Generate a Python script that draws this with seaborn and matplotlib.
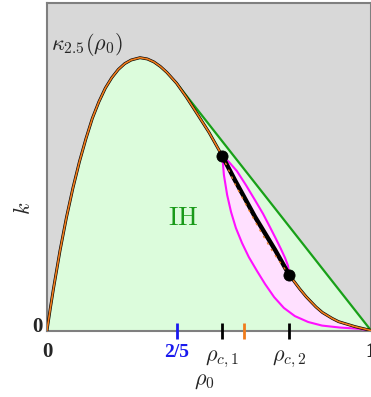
import numpy as np
import pandas as pd
import seaborn as sns
import matplotlib.pyplot as plt
import matplotlib.transforms as mtransforms

# kappa_2.5(rho0) (k in axis units, top of axes = 1)
rho_left = [0, 0.01, 0.02, 0.04, 0.06, 0.08, 0.10, 0.12, 0.14, 0.16, 0.18, 0.20, 0.22,
            0.24, 0.26, 0.287, 0.31, 0.33, 0.35, 0.37, 0.40, 0.43, 0.46, 0.50, 0.541]
kappa_left = [0, 0.066, 0.128, 0.243, 0.345, 0.435, 0.515, 0.585, 0.648, 0.698, 0.740, 0.772, 0.797,
              0.815, 0.826, 0.833, 0.829, 0.820, 0.806, 0.788, 0.755, 0.713, 0.667, 0.605, 0.533]
rho_mid = [0.541, 0.58, 0.62, 0.66, 0.70, 0.748]
kappa_mid = [0.533, 0.448, 0.373, 0.301, 0.235, 0.169]
rho_right = [0.748, 0.78, 0.80, 0.83, 0.85, 0.88, 0.90, 0.95, 1.0]
kappa_right = [0.169, 0.127, 0.103, 0.072, 0.055, 0.037, 0.027, 0.012, 0.0]

# black segment between the two critical points
rho_seg = [0.541, 0.580, 0.642, 0.704, 0.748]
k_seg = [0.533, 0.459, 0.347, 0.246, 0.169]

# magenta curves
rho_up = [0.541, 0.562, 0.586, 0.614, 0.642, 0.667, 0.688, 0.707, 0.722, 0.735, 0.744, 0.748]
k_up = [0.533, 0.514, 0.487, 0.444, 0.398, 0.356, 0.316, 0.279, 0.249, 0.221, 0.197, 0.169]
rho_low = [0.541, 0.546, 0.556, 0.568, 0.583, 0.602, 0.623, 0.648, 0.673, 0.701, 0.731,
           0.765, 0.806, 0.849, 0.904, 0.966, 1.0]
k_low = [0.533, 0.475, 0.414, 0.362, 0.313, 0.267, 0.224, 0.182, 0.142, 0.102, 0.069,
         0.044, 0.026, 0.015, 0.009, 0.005, 0.0]

# tangent (green) line from 2/5 to 1
rho_tan = [0.4, 1.0]
k_tan = [0.755, 0.0]

# critical points and ticks
rho_c = [0.541, 0.748]
k_c = [0.533, 0.169]
tick_pos = [0.4, 0.541, 0.609, 0.748]
tick_col = ['#1a1aee', 'black', '#f07c1c', 'black']

sns.set_theme(style='white')
plt.rcParams['mathtext.fontset'] = 'cm'
plt.rcParams['font.family'] = ['DejaVu Sans']

fig = plt.figure(figsize=(3.71, 3.97), dpi=100)
ax = fig.add_axes([47 / 371, 66.5 / 397, 324 / 371, 327.5 / 397])
ax.set_facecolor('#d8d8d8')
ax.set_axisbelow(False)

orange = '#f07c1c'

# green region under the concave envelope
i_tan = rho_left.index(0.4)
gx = rho_left[:i_tan + 1] + [1.0, 1.0, 0.0]
gy = kappa_left[:i_tan + 1] + [0.0, 0.0, 0.0]
ax.fill(gx, gy, color='#dcfcdc', lw=0, zorder=1)

# pink region
px = rho_up + rho_right[1:] + rho_low[::-1]
py = k_up + kappa_right[1:] + k_low[::-1]
ax.fill(px, py, color='#ffe0ff', lw=0, zorder=2)

sns.lineplot(x=rho_tan, y=k_tan, color='#18a018', lw=1.6, ax=ax, zorder=3)
sns.lineplot(x=rho_up, y=k_up, color='#ff10ff', lw=1.5, sort=False, estimator=None, ax=ax, zorder=3)
sns.lineplot(x=rho_low, y=k_low, color='#ff10ff', lw=1.5, sort=False, estimator=None, ax=ax, zorder=3)

sns.lineplot(x=rho_left, y=kappa_left, color='black', lw=2.1, estimator=None, ax=ax, zorder=4)
sns.lineplot(x=rho_right, y=kappa_right, color='black', lw=2.1, estimator=None, ax=ax, zorder=4)
sns.lineplot(x=rho_seg, y=k_seg, color='black', lw=3.2, estimator=None, ax=ax, zorder=4)
sns.lineplot(x=rho_left, y=kappa_left, color=orange, lw=1.2, estimator=None, ax=ax, zorder=5)
sns.lineplot(x=rho_right, y=kappa_right, color=orange, lw=1.2, estimator=None, ax=ax, zorder=5)
ax.plot(rho_mid, kappa_mid, color=orange, lw=0.9, ls=(0, (2, 4)), zorder=5)
sns.scatterplot(x=rho_c, y=k_c, color='black', s=64, edgecolor='black', ax=ax, zorder=6)

ax.set_xlim(0, 1)
ax.set_ylim(0, 1)
ax.set_xlabel('')
ax.set_ylabel('')

for s in ax.spines.values():
    s.set_color('#7f7f7f')
    s.set_linewidth(1.5)

ax.set_yticks([])
ax.set_xticks(tick_pos)
ax.set_xticklabels([])
ax.tick_params(axis='x', direction='inout', length=12, width=2, bottom=True)
for t, c in zip(ax.xaxis.get_major_ticks(), tick_col):
    t.tick1line.set_markeredgecolor(c)

trans = mtransforms.blended_transform_factory(ax.transData, ax.transAxes)
bold = dict(family='Liberation Serif', weight='bold', fontsize=15)
ax.text(0, -0.066, '0', ha='center', va='center', transform=trans, **bold)
ax.text(1, -0.066, '1', ha='center', va='center', transform=trans, clip_on=False, **bold)
ax.text(0.4, -0.066, '2/5', ha='center', va='center', transform=trans, color='#1a1aee',
        family='Liberation Serif', weight='bold', fontsize=14)
ax.text(0.541, -0.088, r'$\rho_{c,1}$', ha='center', va='center', transform=trans, fontsize=16)
ax.text(0.748, -0.088, r'$\rho_{c,2}$', ha='center', va='center', transform=trans, fontsize=16)
ax.text(0.485, -0.155, r'$\rho_0$', ha='center', va='center', transform=ax.transAxes, fontsize=16)
ax.text(-0.028, 0.011, '0', ha='center', va='center', transform=ax.transAxes, **bold)
ax.text(-0.072, 0.374, r'$k$', ha='center', va='center', rotation=90, transform=ax.transAxes, fontsize=16)
ax.text(0.012, 0.872, r'$\kappa_{2.5}(\rho_0)$', ha='left', va='center', transform=ax.transAxes, fontsize=16)
ax.text(0.42, 0.343, r'$\mathrm{IH}$', ha='center', va='center', color='#1a9a1a', fontsize=19)

fig.savefig('out.png', dpi=100)
